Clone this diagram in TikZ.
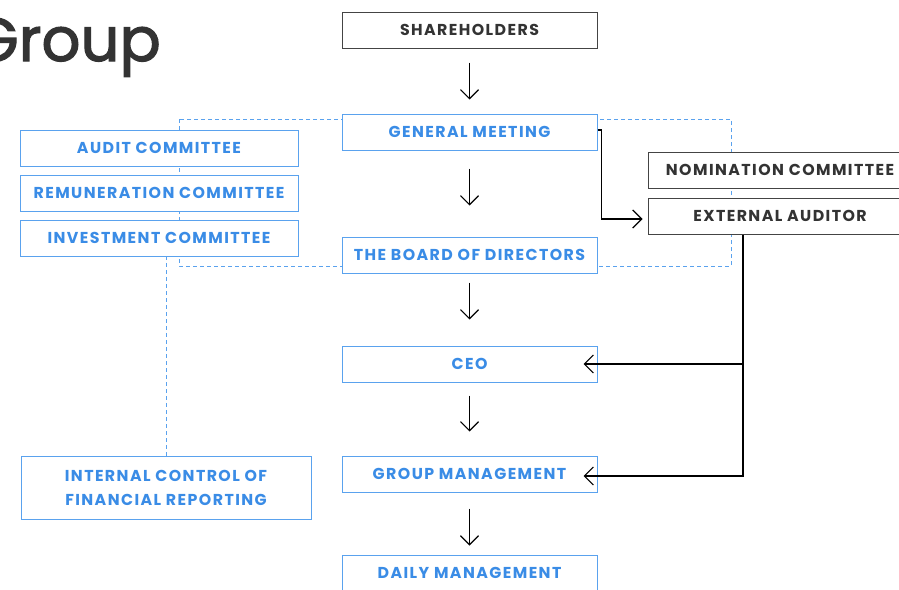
\documentclass[tikz,border=0pt]{standalone}
\usepackage{fontspec}
\setmainfont{Poppins}
\newfontfamily\labfont[LetterSpace=9]{Poppins}
\usetikzlibrary{arrows.meta}
\definecolor{bluetxt}{HTML}{3A8CE6}
\definecolor{blueln}{HTML}{5AA2EE}
\definecolor{darktxt}{HTML}{333333}
\definecolor{darkln}{HTML}{444444}
\tikzset{
  x=1pt, y=-1pt,
  lab/.style={font=\labfont\bfseries\fontsize{15.8}{24}\selectfont, inner sep=0pt, fill=white, line width=1pt, align=center},
  bluebox/.style={lab, draw=blueln, text=bluetxt},
  darkbox/.style={lab, draw=darkln, text=darktxt},
  mainw/.style={minimum width=255pt, minimum height=36pt},
  comw/.style={minimum width=278pt, minimum height=36pt},
  sidew/.style={minimum width=264pt, minimum height=36pt},
  arr/.style={draw=black, line width=1.2pt, -{Straight Barb[length=9pt,width=18pt,line width=1.2pt]}},
  dashln/.style={draw=blueln, line width=0.9pt, dash pattern=on 4pt off 3pt},
}
\begin{document}
\begin{tikzpicture}
\useasboundingbox (0,0) rectangle (899,589);
\draw[dashln] (179,119) rectangle (731,266);
\node[font=\fontsize{61}{63}\selectfont, text=darktxt, anchor=base east, inner sep=0pt] (title) at (161,61) {\addfontfeature{FakeBold=2}Group};
\node[darkbox, mainw] (sh) at (469.5,30) {SHAREHOLDERS};
\node[bluebox, mainw] (gm) at (469.5,132) {GENERAL MEETING};
\node[bluebox, mainw] (bod) at (469.5,255) {THE BOARD OF DIRECTORS};
\node[bluebox, mainw] (ceo) at (469.5,364) {CEO};
\node[bluebox, mainw] (grp) at (469.5,474) {GROUP MANAGEMENT};
\node[bluebox, mainw] (daily) at (469.5,573) {DAILY MANAGEMENT};
\node[bluebox, comw] (audit) at (159,148) {AUDIT COMMITTEE};
\node[bluebox, comw] (remu) at (159,193) {REMUNERATION COMMITTEE};
\node[bluebox, comw] (inv) at (159,238) {INVESTMENT COMMITTEE};
\node[bluebox, minimum width=290pt, minimum height=63pt] (icfr) at (166,487.5) {INTERNAL CONTROL OF\\FINANCIAL REPORTING};
\node[darkbox, sidew] (nom) at (780,170) {NOMINATION COMMITTEE};
\node[darkbox, sidew] (ea) at (780,216) {EXTERNAL AUDITOR};
\draw[dashln] (icfr.north) -- (icfr.north |- inv.south);
\draw[arr, shorten <=14pt, shorten >=14pt] (sh) -- (gm);
\draw[arr, shorten <=18pt, shorten >=31pt] (gm) -- (bod);
\draw[arr, shorten <=9pt, shorten >=26pt] (bod) -- (ceo);
\draw[arr, shorten <=13pt, shorten >=24pt] (ceo) -- (grp);
\draw[arr, shorten <=16pt, shorten >=9pt] (grp) -- (daily);
\draw[arr] ([yshift=2pt]gm.east) -- ++(4,0) |- ([xshift=-5pt,yshift=-3pt]ea.west);
\coordinate (eab) at ([xshift=-37pt]ea.south);
\draw[arr] (eab) |- ([xshift=-14pt]ceo.east);
\draw[arr] (eab) |- ([xshift=-14pt,yshift=-2pt]grp.east);
\end{tikzpicture}
\end{document}
